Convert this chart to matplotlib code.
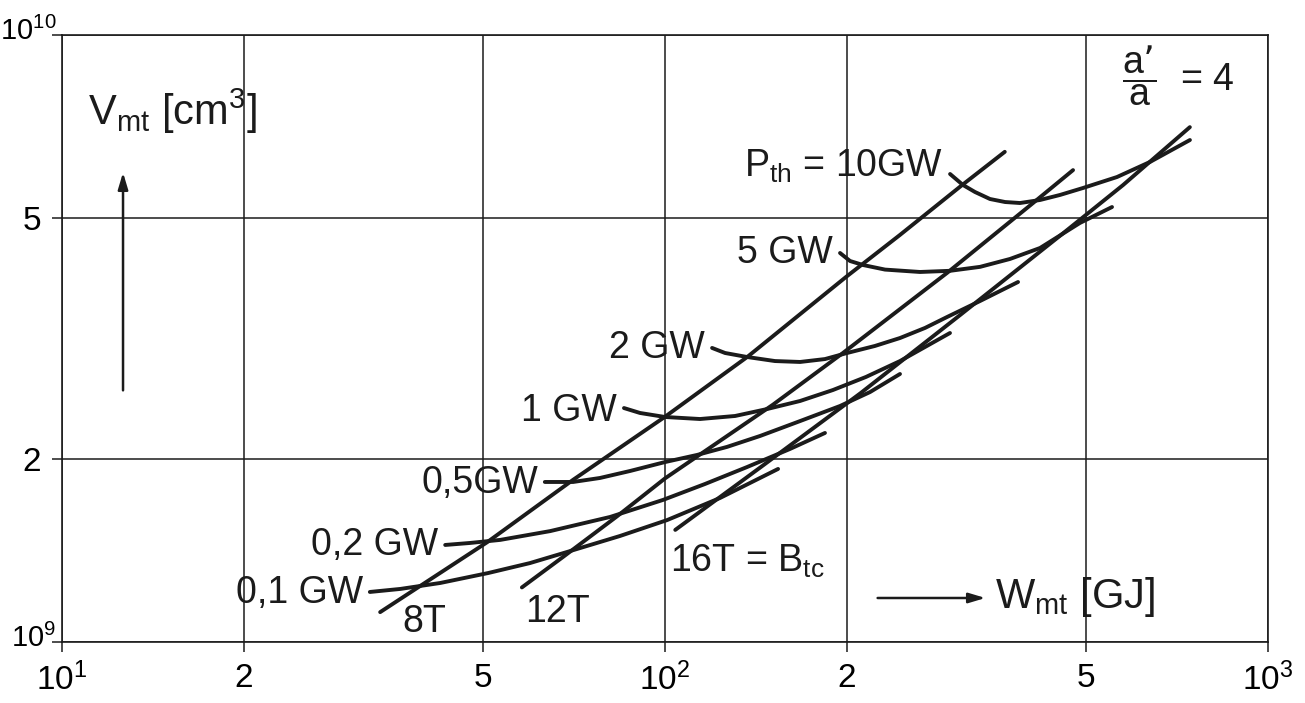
import matplotlib
matplotlib.use("Agg")
import matplotlib.pyplot as plt
import numpy as np
from matplotlib.ticker import FixedLocator, FixedFormatter, NullLocator
from matplotlib.transforms import ScaledTranslation

plt.rcParams['font.family'] = ['Liberation Sans', 'DejaVu Sans']
plt.rcParams['mathtext.default'] = 'regular'

INK = '#1b1b1b'

# magnet energy W_mt [GJ] and volume V_mt [1e9 cm^3] along lines of constant field
b8_w = [33.7, 50.7, 70.4, 100, 137, 200, 245, 311, 366]
b8_v = [1.12, 1.46, 1.85, 2.35, 2.95, 4.00, 4.68, 5.66, 6.42]

b12_w = [57.9, 67.7, 83.2, 100, 151, 197, 294, 408, 475]
b12_v = [1.23, 1.38, 1.61, 1.86, 2.46, 2.99, 4.06, 5.29, 5.99]

b16_w = [104, 144, 211, 309, 452, 575, 742]
b16_v = [1.53, 1.94, 2.57, 3.46, 4.67, 5.66, 7.05]

# curves of constant thermal power P_th
p01_w = [32.4, 36.4, 42.4, 50.9, 59.7, 68.8, 84.2, 100.8, 123.4, 154.0]
p01_v = [1.209, 1.223, 1.251, 1.299, 1.349, 1.407, 1.495, 1.588, 1.727, 1.928]

p02_w = [43.2, 47.5, 53.3, 64.5, 81.1, 99.2, 116.5, 136.8, 161.2, 184.2]
p02_v = [1.445, 1.456, 1.473, 1.523, 1.607, 1.714, 1.821, 1.942, 2.080, 2.210]

p05_w = [63.2, 70.4, 78.0, 87.5, 100, 113.0, 126.7, 143.8, 167.5, 195.1, 218.8, 245.3]
p05_v = [1.835, 1.835, 1.863, 1.913, 1.979, 2.033, 2.096, 2.185, 2.312, 2.448, 2.581, 2.764]

p1_w = [85.5, 90.9, 100, 114.3, 130.7, 147.7, 167.5, 189.9, 215.4, 245.3, 296.9]
p1_v = [2.429, 2.384, 2.348, 2.330, 2.357, 2.420, 2.495, 2.601, 2.733, 2.903, 3.229]

p2_w = [119.7, 125.8, 136.8, 152.2, 167.5, 184.2, 200.4, 222.9, 245.3, 270.0, 293.6, 333.1, 385.0]
p2_v = [3.051, 2.993, 2.948, 2.903, 2.893, 2.925, 2.993, 3.074, 3.168, 3.292, 3.431, 3.646, 3.918]

p5_w = [195.1, 202.7, 213.0, 231.7, 264.8, 297.0, 333.1, 373.4, 418.8, 487.7, 551.2]
p5_v = [4.374, 4.243, 4.179, 4.107, 4.070, 4.088, 4.150, 4.276, 4.458, 4.902, 5.207]

p10_w = [297.0, 312.0, 326.6, 345.9, 366.4, 387.9, 418.8, 451.9, 493.4, 561.8, 637.2, 742.2]
p10_v = [5.902, 5.661, 5.513, 5.368, 5.307, 5.287, 5.348, 5.451, 5.597, 5.835, 6.178, 6.714]

x_ticks = [10, 20, 50, 100, 200, 500, 1000]
x_labels = ['$10^{1}$', '2', '5', '$10^{2}$', '2', '5', '$10^{3}$']
y_ticks = [1e9, 2e9, 5e9, 1e10]
y_labels = ['$10^{9}$', '2', '5', '$10^{10}$']

power_curves = [
    (p01_w, p01_v, '0,1 GW', -8),
    (p02_w, p02_v, '0,2 GW', -7),
    (p05_w, p05_v, '0,5GW', -8),
    (p1_w, p1_v, '1 GW', -9),
    (p2_w, p2_v, '2 GW', -7),
    (p5_w, p5_v, '5 GW', -7),
    (p10_w, p10_v, 'P$_{th}$ = 10GW', -2),
]

field_lines = [
    (b8_w, b8_v, '8T', (16, -14)),
    (b12_w, b12_v, '12T', (2, -25)),
    (b16_w, b16_v, '16T = B$_{tc}$', (-4, -30)),
]

fig = plt.figure(figsize=(13.05, 7.03), dpi=100)
ax = fig.add_axes([62 / 1305, 61 / 703, 1206 / 1305, 607 / 703])
ax.set_xscale('log')
ax.set_yscale('log')
ax.set_xlim(10, 1000)
ax.set_ylim(1e9, 1e10)

ax.xaxis.set_major_locator(FixedLocator(x_ticks))
ax.xaxis.set_major_formatter(FixedFormatter(x_labels))
ax.yaxis.set_major_locator(FixedLocator(y_ticks))
ax.yaxis.set_major_formatter(FixedFormatter(y_labels))
ax.xaxis.set_minor_locator(NullLocator())
ax.yaxis.set_minor_locator(NullLocator())
ax.grid(True, color=INK, lw=1.1)
ax.tick_params(length=7, width=1.1, color=INK, labelsize=24, pad=8)
for s in ax.spines.values():
    s.set_color(INK)
    s.set_linewidth(1.2)

# the powers of ten on the V axis sit tight against the frame
nudge = ScaledTranslation(11 / 72, 5 / 72, fig.dpi_scale_trans)
yt = ax.yaxis.get_major_ticks()
for i in (0, 3):
    yt[i].label1.set_fontsize(21)
    yt[i].label1.set_transform(yt[i].label1.get_transform() + nudge)

# B_tc lines
for w, v, name, off in field_lines:
    v = np.array(v) * 1e9
    ax.plot(w, v, color=INK, lw=2.8, solid_capstyle='round', solid_joinstyle='round')
    ax.annotate(name, (w[0], v[0]), xytext=off, textcoords='offset points',
                ha='left', va='baseline', fontsize=27, color=INK)

# P_th curves with labels at their left ends
for w, v, name, dy in power_curves:
    v = np.array(v) * 1e9
    ax.plot(w, v, color=INK, lw=2.8, solid_capstyle='round', solid_joinstyle='round')
    ax.annotate(name, (w[0], v[0]), xytext=(-5, dy), textcoords='offset points',
                ha='right', va='baseline', fontsize=27, color=INK)

# axis captions with arrows
ax.text(0.0216, 0.852, 'V$_{mt}$ [cm$^{3}$]', transform=ax.transAxes,
        ha='left', va='baseline', fontsize=30, color=INK)
ax.annotate('', xy=(0.0506, 0.778), xytext=(0.0506, 0.41), xycoords='axes fraction',
            arrowprops=dict(arrowstyle='-|>,head_length=1.0,head_width=0.3',
                            color=INK, lw=1.8))
ax.text(0.774, 0.056, 'W$_{mt}$ [GJ]', transform=ax.transAxes,
        ha='left', va='baseline', fontsize=30, color=INK)
ax.annotate('', xy=(0.768, 0.0725), xytext=(0.674, 0.0725), xycoords='axes fraction',
            arrowprops=dict(arrowstyle='-|>,head_length=1.0,head_width=0.3',
                            color=INK, lw=1.8))

ax.text(0.879, 0.933, "$\\dfrac{a\u2019}{a}$  = 4", transform=ax.transAxes,
        ha='left', va='center', fontsize=27, color=INK)

fig.savefig('out.png', dpi=100)
